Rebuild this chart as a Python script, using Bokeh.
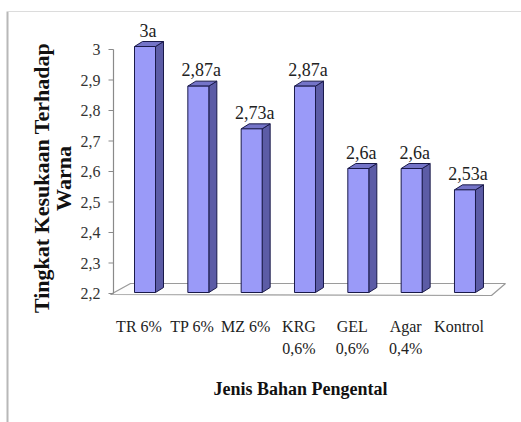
import math
from bokeh.plotting import figure
from bokeh.core.properties import value
from bokeh.embed import file_html
from bokeh.resources import INLINE

# ---------------- data ----------------
categories = ["TR 6%", "TP 6%", "MZ 6%", "KRG\n0,6%", "GEL\n0,6%", "Agar\n0,4%", "Kontrol"]
scores = [3.0, 2.87, 2.73, 2.87, 2.6, 2.6, 2.53]
value_labels = ["3a", "2,87a", "2,73a", "2,87a", "2,6a", "2,6a", "2,53a"]
y_ticks = [2.2, 2.3, 2.4, 2.5, 2.6, 2.7, 2.8, 2.9, 3.0]
y_tick_labels = ["2,2", "2,3", "2,4", "2,5", "2,6", "2,7", "2,8", "2,9", "3"]
y_title_lines = ["Tingkat Kesukaan Terhadap", "Warna"]
x_title = "Jenis Bahan Pengental"

# ---------------- layout helpers (pixel -> data) ----------------
W, H = 521, 422
PX_X = 53.33      # pixels per category step
X0_PX = 144.5     # screen x of first category centre
PX_Y = 305.0      # pixels per score unit
BASE = 2.2
BASE_PX = 293.0   # screen y of the base value


def xd(px):
    return (px - X0_PX) / PX_X


def yd(py):
    return BASE + (BASE_PX - py) / PX_Y


def dx(px):
    return px / PX_X


def dy(px):
    return px / PX_Y


SERIF = value("'Liberation Serif', 'Times New Roman', serif")

p = figure(width=W, height=H, x_range=(xd(0), xd(W)), y_range=(yd(H), yd(0)),
           x_axis_type=None, y_axis_type=None, toolbar_location=None,
           output_backend="svg", min_border=0)
p.grid.visible = False
p.outline_line_color = None
p.background_fill_color = "white"
p.border_fill_color = "white"

# outer frame (top + left edges of the pasted chart)
p.quad(left=[xd(6)], right=[xd(8)], top=[yd(11)], bottom=[yd(H + 2)],
       fill_color="#b8b8b8", line_color=None)
p.quad(left=[xd(7)], right=[xd(W + 2)], top=[yd(10.5)], bottom=[yd(11.5)],
       fill_color="#dcdcdc", line_color=None)

n = len(categories)
idx = list(range(n))

# floor of the 3D plot area
floor_x = [xd(110), xd(491), xd(505), xd(130)]
floor_y = [yd(294), yd(295), yd(283), yd(283)]
p.patch(floor_x, floor_y, fill_color="#fdfdfd", line_color="#9a9a9a", line_width=1.2)

# y axis line, ticks, labels
p.segment(x0=[xd(113)], y0=[BASE], x1=[xd(113)], y1=[max(y_ticks)],
          line_color="#8a8a8a", line_width=1.2)
p.segment(x0=[xd(108)] * len(y_ticks), y0=y_ticks, x1=[xd(113)] * len(y_ticks), y1=y_ticks,
          line_color="#8a8a8a", line_width=1.2)
p.text(x=[xd(100)] * len(y_ticks), y=y_ticks, text=y_tick_labels,
       text_font=SERIF, text_font_size="16px", text_color="#333333",
       text_align="right", text_baseline="middle")

# 3D bars
hw = dx(10.5)
sdx = dx(8)
sdy = dy(5)
lift_b = dy(1)
lift_t = dy(3)
lefts = [i - hw for i in idx]
rights = [i + hw for i in idx]
bottoms = [BASE + lift_b] * n
tops = [v + lift_t for v in scores]

side_xs = [[r, r + sdx, r + sdx, r] for r in rights]
side_ys = [[b, b + sdy, t + sdy, t] for b, t in zip(bottoms, tops)]
top_xs = [[l, l + sdx, r + sdx, r] for l, r in zip(lefts, rights)]
top_ys = [[t, t + sdy, t + sdy, t] for t in tops]

edge = "#1a1a4a"
p.patches(side_xs, side_ys, fill_color="#5c5ca6", line_color=edge, line_width=1)
p.patches(top_xs, top_ys, fill_color="#7474c8", line_color=edge, line_width=1)
p.quad(left=lefts, right=rights, bottom=bottoms, top=tops,
       fill_color="#9a9af8", line_color=edge, line_width=1)

# value labels
p.text(x=[i + dx(3) for i in idx], y=[t + dy(16) for t in tops], text=value_labels,
       text_font=SERIF, text_font_size="18px", text_color="#222222",
       text_align="center", text_baseline="middle")

# category labels
p.text(x=[i - dx(6) for i in idx], y=[yd(317)] * n, text=categories,
       text_font=SERIF, text_font_size="16px", text_color="#222222",
       text_align="center", text_baseline="top", text_line_height=1.35)

# axis titles
p.text(x=[xd(300)], y=[yd(388)], text=[x_title], text_font=SERIF,
       text_font_size="18px", text_font_style="bold", text_color="#111111",
       text_align="center", text_baseline="middle")
p.text(x=[xd(41), xd(63)], y=[yd(177.5), yd(178)], text=y_title_lines, text_font=SERIF,
       text_font_size="22px", text_font_style="bold", text_color="#111111",
       text_align="center", text_baseline="middle", angle=math.pi / 2)

open("out.html", "w").write(file_html(p, INLINE))
